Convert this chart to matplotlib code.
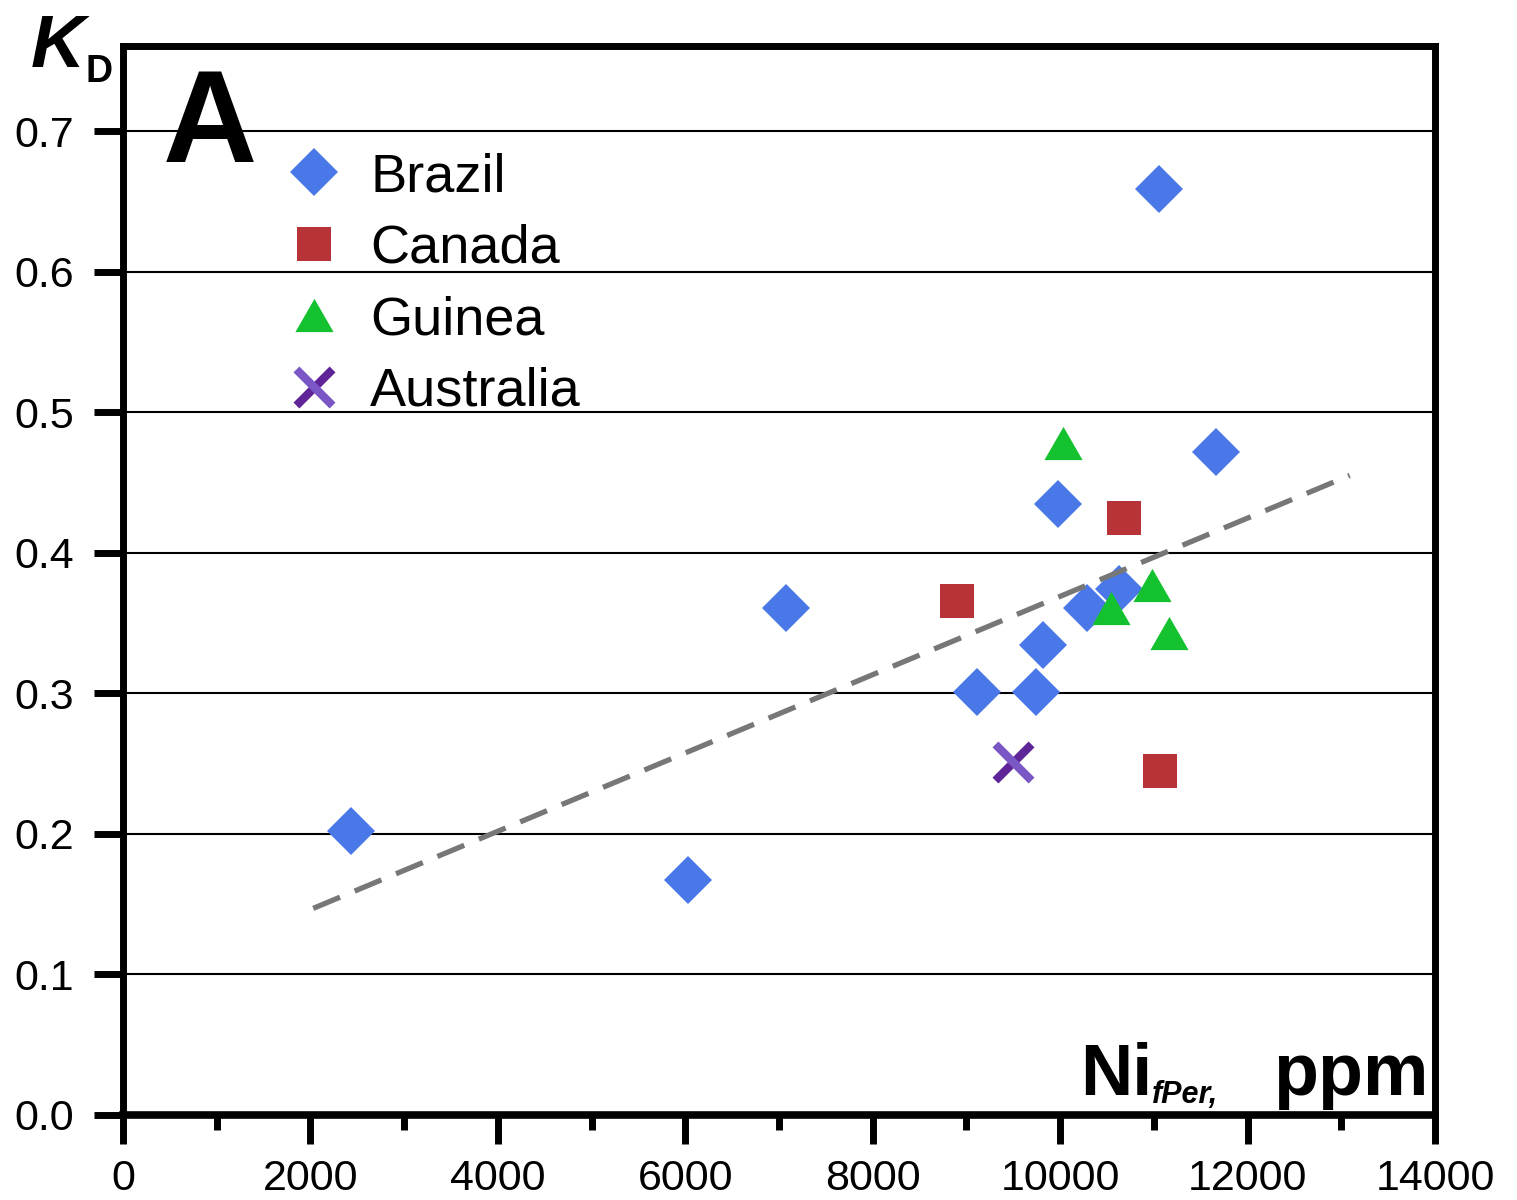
import numpy as np
import matplotlib
matplotlib.use("Agg")
import matplotlib.pyplot as plt
from matplotlib.path import Path
from matplotlib.ticker import MultipleLocator

plt.rcParams['font.family'] = ['Liberation Sans', 'DejaVu Sans']

# data (Ni in fPer, ppm  vs  KD)
brazil_x = [2431, 6024, 7080, 9116, 9746, 9820, 9980, 10289, 10631, 11057, 11665]
brazil_y = [0.202, 0.167, 0.361, 0.301, 0.301, 0.334, 0.435, 0.361, 0.374, 0.659, 0.472]
canada_x = [8903, 10684, 11068]
canada_y = [0.366, 0.425, 0.245]
guinea_x = [10033, 10545, 10982, 11163]
guinea_y = [0.478, 0.361, 0.377, 0.343]
austr_x = [9500]
austr_y = [0.251]
trend_x = [2030, 13090]
trend_y = [0.147, 0.455]

xticks = [0, 2000, 4000, 6000, 8000, 10000, 12000, 14000]
yticks = [0.0, 0.1, 0.2, 0.3, 0.4, 0.5, 0.6, 0.7]

W, H = 1517, 1200
def px(x, y):
    return x / W, 1 - y / H

fig = plt.figure(figsize=(W / 100, H / 100), dpi=100)
ax = fig.add_axes([123 / W, 1 - 1115 / H, (1435 - 123) / W, (1115 - 45.5) / H])

blue = '#4a78e8'
red = '#b73337'
green = '#14c12e'
pdark = '#5f2598'
plight = '#7b57c6'

tri = [(-1, -0.87), (1, -0.87), (0, 0.87), (-1, -0.87)]
stroke1 = Path([(-1, -1), (1, 1)], [Path.MOVETO, Path.LINETO])
stroke2 = Path([(-1, 1), (1, -1)], [Path.MOVETO, Path.LINETO])

hb, = ax.plot(brazil_x, brazil_y, ls='none', marker='D', ms=24.5, mew=0, color=blue, zorder=3)
hc, = ax.plot(canada_x, canada_y, ls='none', marker='s', ms=24.5, mew=0, color=red, zorder=3)
hg, = ax.plot(guinea_x, guinea_y, ls='none', marker=tri, ms=27.5, mew=0, color=green, zorder=3)
ha1, = ax.plot(austr_x, austr_y, ls='none', marker=stroke1, ms=26, mew=6, color=pdark, zorder=3)
ha2, = ax.plot(austr_x, austr_y, ls='none', marker=stroke2, ms=26, mew=6, color=plight, zorder=3)

ax.plot(trend_x, trend_y, color='#777777', lw=3.8, dashes=(5.5, 3.0), zorder=4)

ax.set_xlim(0, 14000)
ax.set_ylim(0, (1115 - 45.5) / 1405.7)
ax.set_xticks(xticks)
ax.xaxis.set_minor_locator(MultipleLocator(1000))
ax.set_yticks(yticks)
ax.set_xticklabels([str(v) for v in xticks])
ax.set_yticklabels([f"{v:.1f}" for v in yticks])
ax.tick_params(axis='x', which='major', direction='out', length=21, width=5, pad=11, labelsize=31)
ax.tick_params(axis='x', which='minor', direction='out', length=11, width=5)
ax.tick_params(axis='y', which='major', direction='out', length=21, width=5, pad=14, labelsize=31)
ax.grid(axis='y', color='black', lw=1.5)
ax.set_axisbelow(True)
for s in ax.spines.values():
    s.set_linewidth(5)
ax.spines['bottom'].set_linewidth(5.5)

leg = ax.legend([hb, hc, hg, (ha1, ha2)], ['Brazil', 'Canada', 'Guinea', 'Australia'],
                loc='upper left', bbox_to_anchor=px(281, 152), bbox_transform=fig.transFigure,
                frameon=False, fontsize=39, handlelength=1.2, handletextpad=0.45,
                labelspacing=0.4, borderpad=0, borderaxespad=0)

# panel letter and axis captions
fig.text(*px(163, 162), 'A', fontsize=94, fontweight='bold', ha='left', va='baseline')
fig.text(*px(31, 67), 'K', fontsize=54, fontweight='bold', fontstyle='italic', ha='left', va='baseline')
fig.text(*px(86, 82), 'D', fontsize=27, fontweight='bold', ha='left', va='baseline')
fig.text(*px(1080, 1095), 'Ni', fontsize=52, fontweight='bold', ha='left', va='baseline')
fig.text(*px(1152, 1103), 'fPer,', fontsize=22, fontweight='bold', fontstyle='italic', ha='left', va='baseline')
fig.text(*px(1429, 1095), 'ppm', fontsize=53, fontweight='bold', ha='right', va='baseline')

fig.savefig('out.png', dpi=100)
